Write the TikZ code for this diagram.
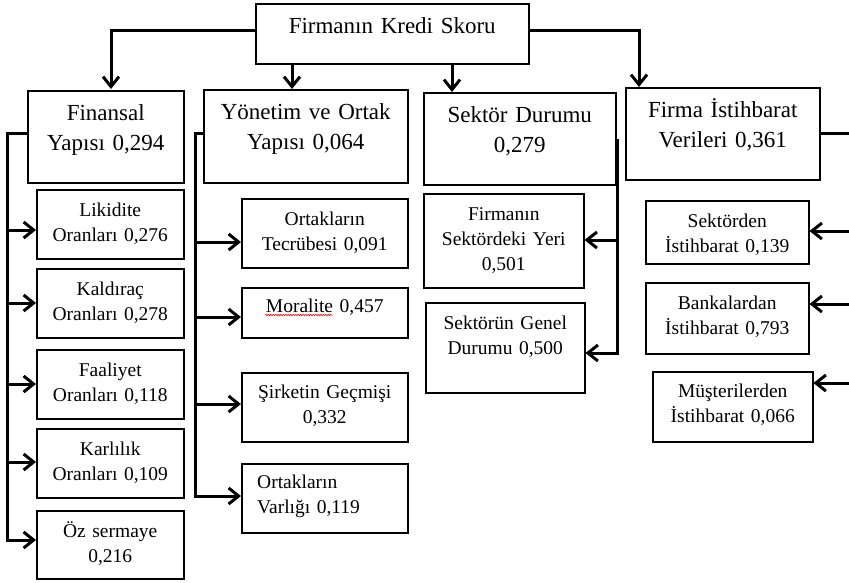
\documentclass[tikz,border=0pt]{standalone}
\usepackage{fontspec}
\setmainfont{Liberation Serif}
\usetikzlibrary{arrows.meta}
\usetikzlibrary{decorations.pathmorphing}

\tikzset{
  box/.style={draw, line width=1.5pt, inner sep=0pt, anchor=north west},
  big/.style={anchor=base, align=center, text width=260pt, inner sep=0pt, yshift=-30pt, font=\fontsize{23}{30}\selectfont},
  small/.style={anchor=base, align=center, text width=170pt, inner sep=0pt, yshift=-27pt, font=\fontsize{19.5}{25}\selectfont},
  bus/.style={line width=3pt},
  conn/.style={line width=3pt, -{Straight Barb[length=10pt,width=16pt]}}
}

\begin{document}
\begin{tikzpicture}[x=1pt,y=-1pt]

\useasboundingbox (0,0) rectangle (849,582);

% ust seviye
\node[box, minimum width=273pt, minimum height=60pt, label={[big]north:Firmanın Kredi Skoru}] (top) at (255,3) {};

\node[box, minimum width=156pt, minimum height=92pt, label={[big]north:{Finansal\\Yapısı 0,294}}] (fin) at (27,90) {};
\node[box, minimum width=204pt, minimum height=93pt, label={[big]north:{Yönetim ve Ortak\\Yapısı 0,064}}] (yon) at (203,89) {};
\node[box, minimum width=192pt, minimum height=92pt, label={[big]north:{Sektör Durumu\\0,279}}] (sek) at (423,92) {};
\node[box, minimum width=194pt, minimum height=92pt, label={[big]north:{Firma İstihbarat\\Verileri 0,361}}] (fir) at (625,87) {};

% finansal yapi
\node[box, minimum width=147pt, minimum height=69pt, label={[small]north:{Likidite\\Oranları 0,276}}] (lik) at (36,189) {};
\node[box, minimum width=147pt, minimum height=69pt, label={[small]north:{Kaldıraç\\Oranları 0,278}}] (kal) at (36,268) {};
\node[box, minimum width=147pt, minimum height=69pt, label={[small]north:{Faaliyet\\Oranları 0,118}}] (faa) at (36,349) {};
\node[box, minimum width=147pt, minimum height=69pt, label={[small]north:{Karlılık\\Oranları 0,109}}] (kar) at (36,428) {};
\node[box, minimum width=147pt, minimum height=68pt, label={[small]north:{Öz sermaye\\0,216}}] (oz) at (36,510) {};

% yonetim ve ortak yapisi
\node[box, minimum width=166pt, minimum height=69pt, label={[small]north:{Ortakların\\Tecrübesi 0,091}}] (tec) at (241,198) {};
\node[box, minimum width=166pt, minimum height=50pt, label={[small, yshift=2pt]north:{Moralite 0,457}}] (mor) at (241,287) {};
\node[box, minimum width=166pt, minimum height=69pt, label={[small, yshift=1pt]north:{Şirketin Geçmişi\\0,332}}] (sir) at (241,372) {};
\node[box, minimum width=166pt, minimum height=69pt, label={[small, align=left, text width=140pt, anchor=base west, xshift=16pt, yshift=2pt]north west:{Ortakların\\Varlığı 0,119}}] (var) at (241,463) {};

% sektor durumu
\node[box, minimum width=160pt, minimum height=94pt, label={[small]north:{Firmanın\\Sektördeki Yeri\\0,501}}] (fsy) at (423,193) {};
\node[box, minimum width=159pt, minimum height=90pt, label={[small]north:{Sektörün Genel\\Durumu 0,500}}] (sgd) at (425,302) {};

% firma istihbarat verileri
\node[box, minimum width=163pt, minimum height=63pt, label={[small]north:{Sektörden\\İstihbarat 0,139}}] (skt) at (645,200) {};
\node[box, minimum width=163pt, minimum height=71pt, label={[small]north:{Bankalardan\\İstihbarat 0,793}}] (bnk) at (645,282) {};
\node[box, minimum width=160pt, minimum height=70pt, label={[small, yshift=1pt]north:{Müşterilerden\\İstihbarat 0,066}}] (mus) at (652,371) {};

\draw[red, line width=0.6pt, decorate, decoration={snake, amplitude=0.7pt, segment length=2.5pt}] ([xshift=24pt,yshift=-28pt]mor.north west) -- ++(67,0);

% ust baglantilar
\coordinate (t-fin) at (111,89);
\coordinate (t-yon) at (292,89);
\coordinate (t-sek) at (452,92);
\coordinate (t-fir) at (639,87);

\draw[conn] ([yshift=3pt]top.west) -| (t-fin);
\draw[conn] ([yshift=3pt]top.east) -| (t-fir);
\draw[conn] (t-yon |- top.south) -- (t-yon);
\draw[conn] (t-sek |- top.south) -- (t-sek);

% sol kolon
\coordinate (f-top) at (7,133);
\coordinate (oz-in) at (7,540);
\draw[conn] (fin.west |- f-top) -- (f-top) -- (oz-in) -- (oz-in -| oz.west);
\foreach \n/\y in {lik/230, kal/303, faa/384, kar/462}{
  \coordinate (\n-in) at (7,\y);
  \draw[conn] (\n-in) -- (\n-in -| \n.west);
}

% ikinci kolon
\coordinate (y-top) at (195,133);
\coordinate (var-in) at (195,496);
\draw[conn] (yon.west |- y-top) -- (y-top) -- (var-in) -- (var-in -| var.west);
\foreach \n/\y in {tec/242, mor/317, sir/404}{
  \coordinate (\n-in) at (195,\y);
  \draw[conn] (\n-in) -- (\n-in -| \n.west);
}

% ucuncu kolon
\coordinate (s-top) at (617,140);
\coordinate (fsy-in) at (617,240);
\coordinate (sgd-in) at (617,353);
\draw[conn] (sek.east |- s-top) -- (s-top) -- (sgd-in) -- (sgd-in -| sgd.east);
\draw[conn] (fsy-in) -- (fsy-in -| fsy.east);

% dorduncu kolon
\coordinate (r-top) at (852,133);
\draw[bus] (fir.east |- r-top) -- (r-top);
\foreach \n/\y in {skt/231, bnk/304, mus/383}{
  \coordinate (\n-in) at (852,\y);
  \draw[conn] (\n-in) -- (\n-in -| \n.east);
}

\end{tikzpicture}
\end{document}
